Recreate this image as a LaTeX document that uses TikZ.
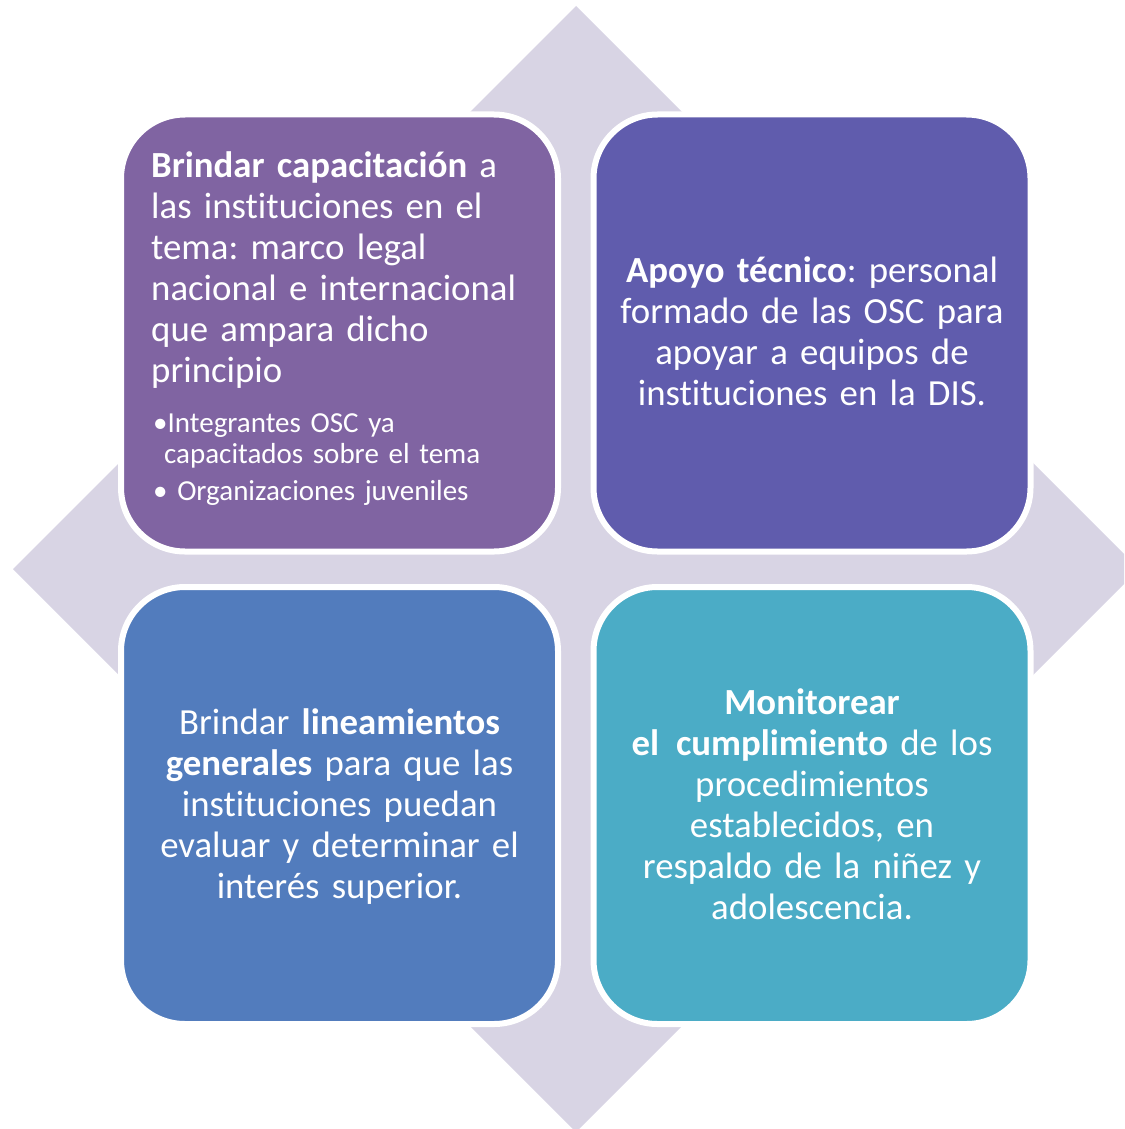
\documentclass[tikz,border=0pt]{standalone}
\usepackage{fontspec}
\setmainfont{Carlito}[Ligatures={NoCommon}]
\frenchspacing
\definecolor{diam}{RGB}{216,212,228}
\definecolor{cTL}{RGB}{128,100,162}
\definecolor{cTR}{RGB}{96,92,173}
\definecolor{cBL}{RGB}{82,124,189}
\definecolor{cBR}{RGB}{75,172,198}
\newcommand\myboxfont{\fontsize{36.8}{41}\bfseries\fontdimen2\font=6pt\relax\mdseries\fontdimen2\font=6pt\relax}
\newcommand\mybulletfont{\fontsize{29}{31}\selectfont\fontdimen2\font=5pt\relax}
\begin{document}
\begin{tikzpicture}[x=1pt,y=-1pt,
  box/.style={draw=white, line width=6pt, rounded corners=64pt, minimum width=437pt, minimum height=437pt, inner sep=0pt},
  maintext/.style={text=white, font=\myboxfont, inner sep=0pt, text width=440pt, align=center, anchor=base},
  lefttext/.style={text=white, font=\myboxfont, inner sep=0pt, text width=420pt, align=left, anchor=base west},
  bullettext/.style={text=white, font=\mybulletfont, inner sep=0pt, text width=420pt, align=left, anchor=base west}]
\useasboundingbox (0,0) rectangle (1124,1129);
\clip (0,0) rectangle (1124,1129);
\fill[diam] (576,6) -- (1139,569) -- (576,1132) -- (13,569) -- cycle;
\node[box, fill=cTL] (tl) at (339.5,333) {};
\node[box, fill=cTR] (tr) at (812,333) {};
\node[box, fill=cBL] (bl) at (339.5,805.5) {};
\node[box, fill=cBR] (br) at (812,805.5) {};
\node[lefttext] (tltext) at (151,177) {\textbf{Brindar capacitación} a\\las instituciones en el\\tema: marco legal\\nacional e internacional\\que ampara dicho\\principio};
\node[bullettext] (tlbullets) at (153,432) {•Integrantes OSC ya\\\hspace*{11pt}capacitados sobre el tema\\[6pt]• Organizaciones juveniles};
\node[maintext] (trtext) at (812,282) {\textbf{Apoyo técnico}: personal\\formado de las OSC para\\apoyar a equipos de\\instituciones en la DIS.};
\node[maintext] (bltext) at (339.5,734) {Brindar \textbf{lineamientos}\\\textbf{generales} para que las\\instituciones puedan\\evaluar y determinar el\\interés superior.};
\node[maintext] (brtext) at (812,714) {\textbf{Monitorear}\\\textbf{el\hspace{17pt}cumplimiento} de los\\procedimientos\\establecidos, en\\respaldo de la niñez y\\adolescencia.};
\end{tikzpicture}
\end{document}
